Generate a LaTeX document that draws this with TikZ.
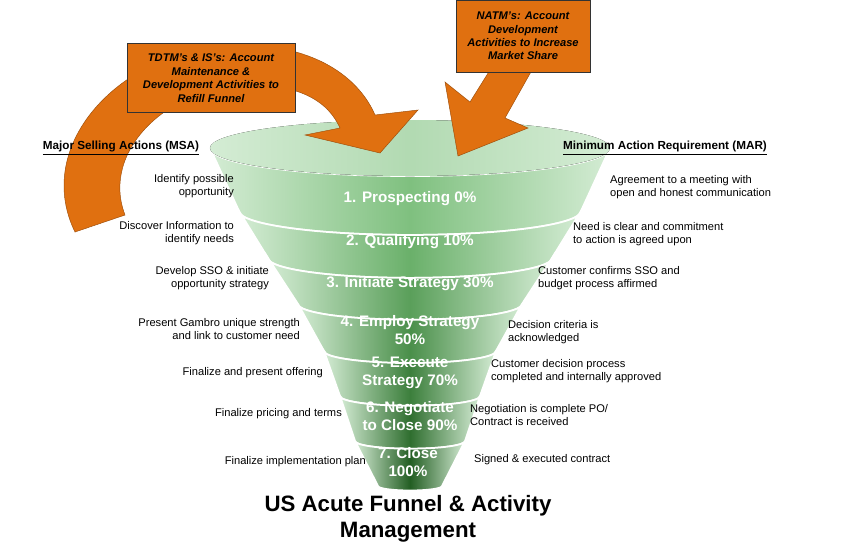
\documentclass[tikz,border=0pt]{standalone}
\usepackage{fontspec}
\setmainfont{Liberation Sans}
\usetikzlibrary{positioning}
\definecolor{funnelorange}{HTML}{E07010}
\definecolor{pale}{HTML}{D4ECD4}

\begin{document}
\begin{tikzpicture}[x=0.03cm,y=-0.03cm,
  stage/.style={text=white,font=\fontsize{13}{15}\selectfont\bfseries,align=center},
  msa/.style={font=\fontsize{9.5}{11.5}\selectfont,align=right,anchor=east},
  mar/.style={font=\fontsize{9.5}{11.5}\selectfont,align=left,anchor=west},
  head/.style={font=\fontsize{10}{12}\selectfont\bfseries},
  callout/.style={draw=black!80,fill=funnelorange,font=\fontsize{9.5}{11.5}\selectfont\bfseries\itshape,align=center,inner sep=3pt}]
 \useasboundingbox (0,0) rectangle (842,548);

 % funnel bands: top y / half width / bottom y / half width / middle colour
 \foreach \yt/\wt/\yb/\wb/\col in {148/200/211/171/7FC07F,211/171/258/142/6AB06A,
     258/142/304/112/5A9F5A,304/112/351/86/4A8F4A,351/86/396/70/3C7F3C,
     396/70/441/55/2F6E2F,441/55/486/32/235E23}{
  \definecolor{bandmid}{HTML}{\col}
  \fill[left color=pale,right color=pale,middle color=bandmid,draw=white,line width=1.5pt]
     (410-\wt,\yt) arc[start angle=180,end angle=360,x radius=\wt*0.03cm,y radius=0.14*\wt*0.03cm]
     -- (410+\wb,\yb) arc[start angle=0,end angle=-180,x radius=\wb*0.03cm,y radius=0.14*\wb*0.03cm]
     -- cycle;}
 \fill[left color=pale,right color=pale,middle color=green!35!gray!45]
     (410,148) ellipse[x radius=6cm,y radius=0.84cm];

 % arrows
 \fill[funnelorange,draw=funnelorange!70!black] (75,232) .. controls (30,140) and (130,40) .. (250,45)
     .. controls (320,48) and (360,80) .. (375,115) -- (418,110) -- (380,153) -- (305,135)
     -- (340,128) .. controls (325,95) and (290,85) .. (250,85)
     .. controls (170,85) and (100,150) .. (125,215) -- cycle;
 \fill[funnelorange,draw=funnelorange!70!black] (490,70) -- (532,70) -- (505,118) -- (528,128)
     -- (458,156) -- (445,82) -- (470,102) -- cycle;

 \node[callout,minimum width=168*0.03cm,minimum height=69*0.03cm] (tdtm) at (211,78)
     {TDTM's \& IS's: Account\\Maintenance \&\\Development Activities to\\Refill Funnel};
 \node[callout,minimum width=134*0.03cm,minimum height=72*0.03cm] (natm) at (523,36)
     {NATM's: Account\\Development\\Activities to Increase\\Market Share};

 % headings
 \node[head] (msahead) at (121,148) {\underline{Major Selling Actions (MSA)}};
 \node[head] (marhead) at (665,148) {\underline{Minimum Action Requirement (MAR)}};

 % stages
 \node[stage] (s1) at (410,199) {1. Prospecting 0\%};
 \node[stage] (s2) at (410,242) {2. Qualifying 10\%};
 \node[stage] (s3) at (410,284) {3. Initiate Strategy 30\%};
 \node[stage] (s4) at (410,330) {4. Employ Strategy\\50\%};
 \node[stage] (s5) at (410,373) {5. Execute\\Strategy 70\%};
 \node[stage] (s6) at (410,416) {6. Negotiate\\to Close 90\%};
 \node[stage] (s7) at (408,462) {7. Close\\100\%};

 % selling actions
 \node[msa] (a1) at (238,186) {Identify possible\\opportunity};
 \node[msa] (a2) at (238,233) {Discover Information to\\identify needs};
 \node[msa] (a3) at (273,278) {Develop SSO \& initiate\\opportunity strategy};
 \node[msa] (a4) at (304,329) {Present Gambro unique strength\\and link to customer need};
 \node[msa] (a5) at (327,373) {Finalize and present offering};
 \node[msa] (a6) at (346,414) {Finalize pricing and terms};
 \node[msa] (a7) at (370,462) {Finalize implementation plan};

 % action requirements
 \node[mar] (r1) at (606,187) {Agreement to a meeting with\\open and honest communication};
 \node[mar] (r2) at (569,234) {Need is clear and commitment\\to action is agreed upon};
 \node[mar] (r3) at (534,278) {Customer confirms SSO and\\budget process affirmed};
 \node[mar] (r4) at (504,332) {Decision criteria is\\acknowledged};
 \node[mar] (r5) at (487,371) {Customer decision process\\completed and internally approved};
 \node[mar] (r6) at (466,415) {Negotiation is complete PO/\\Contract is received};
 \node[mar] (r7) at (470,460) {Signed \& executed contract};

 \node[font=\fontsize{19}{22}\selectfont\bfseries,align=center] (title) at (408,519)
     {US Acute Funnel \& Activity\\Management};
\end{tikzpicture}
\end{document}
